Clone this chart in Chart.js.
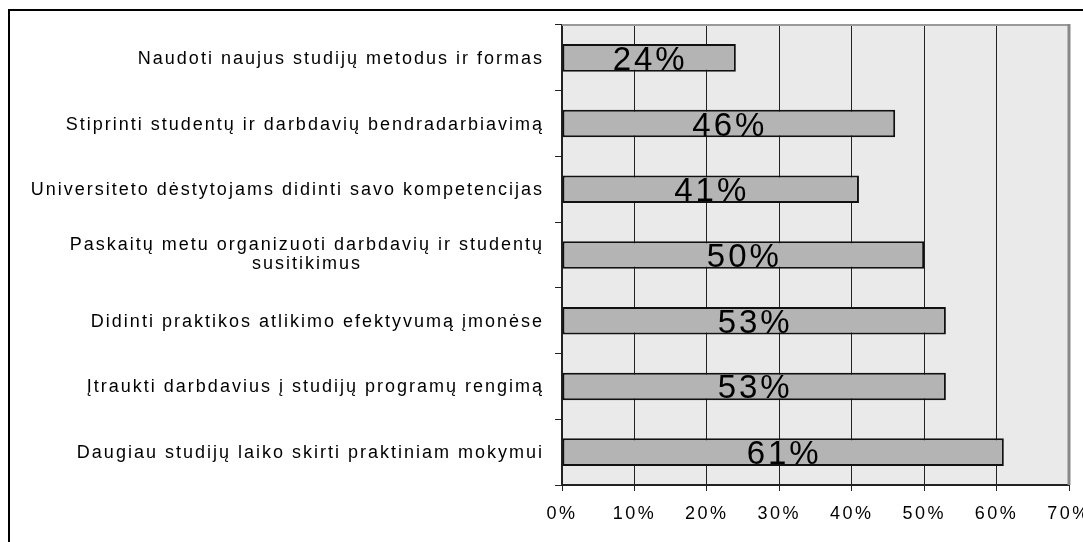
<!DOCTYPE html>
<html lang="lt">
<head>
  <meta charset="UTF-8" />
  <title>Siūlymai</title>
  <script src="https://cdn.jsdelivr.net/npm/chart.js"></script>
  <style>
    body { margin: 0; background: #fff; }
    #wrap { width: 1083px; height: 542px; position: relative; }
  </style>
</head>
<body>
  <div id="wrap"><canvas id="chart"></canvas></div>

  <script>
    const categories = [
      ["Naudoti naujus studijų metodus ir formas"],
      ["Stiprinti studentų ir darbdavių bendradarbiavimą"],
      ["Universiteto dėstytojams didinti savo kompetencijas"],
      ["Paskaitų metu organizuoti darbdavių ir studentų", "susitikimus"],
      ["Didinti praktikos atlikimo efektyvumą įmonėse"],
      ["Įtraukti darbdavius į studijų programų rengimą"],
      ["Daugiau studijų laiko skirti praktiniam mokymui"]
    ];
    const values = [24, 46, 41, 50, 53, 53, 61];
    const xTicks = [0, 10, 20, 30, 40, 50, 60, 70];

    const FONT = "'Liberation Sans', Arial, sans-serif";

    // white page, grey plot area and the outer frame
    const backdrop = {
      id: "backdrop",
      beforeDraw(chart) {
        const { ctx, chartArea: a } = chart;
        ctx.save();
        ctx.fillStyle = "#fff";
        ctx.fillRect(0, 0, chart.width, chart.height);
        ctx.fillStyle = "#eaeaea";
        ctx.fillRect(a.left, a.top, a.right - a.left, a.bottom - a.top);
        ctx.strokeStyle = "#000";
        ctx.lineWidth = 2;
        ctx.beginPath();
        ctx.moveTo(9, chart.height + 2);
        ctx.lineTo(9, 10);
        ctx.lineTo(chart.width + 2, 10);
        ctx.stroke();
        ctx.restore();
        ctx.letterSpacing = "2.5px";
      },
      afterDraw(chart) {
        const { ctx, chartArea: a } = chart;
        ctx.save();
        ctx.strokeStyle = "#999";
        ctx.lineWidth = 2;
        ctx.beginPath();
        ctx.moveTo(a.left, a.top);
        ctx.lineTo(a.right, a.top);
        ctx.stroke();
        ctx.strokeStyle = "#888";
        ctx.lineWidth = 3;
        ctx.beginPath();
        ctx.moveTo(a.right, a.top - 1);
        ctx.lineTo(a.right, a.bottom);
        ctx.stroke();
        ctx.restore();
      }
    };

    // category labels: block right aligned, lines centred inside it
    const catLabels = {
      id: "catLabels",
      afterDraw(chart) {
        const { ctx } = chart;
        const y = chart.scales.y;
        ctx.save();
        ctx.font = "18px " + FONT;
        ctx.letterSpacing = "2px";
        ctx.fillStyle = "#000";
        ctx.textAlign = "center";
        ctx.textBaseline = "alphabetic";
        const right = 544, lh = 19;
        categories.forEach((lines, i) => {
          const w = Math.max(...lines.map(l => ctx.measureText(l).width));
          const cx = right - w / 2;
          const cy = y.getPixelForValue(i);
          lines.forEach((l, k) => {
            const ly = cy + (k - (lines.length - 1) / 2) * lh;
            ctx.fillText(l, cx, ly + (lines.length > 1 ? 4 : 6));
          });
        });
        ctx.restore();
      }
    };

    // big value labels centred in each bar
    const barLabels = {
      id: "barLabels",
      afterDatasetsDraw(chart) {
        const { ctx } = chart;
        const meta = chart.getDatasetMeta(0);
        ctx.save();
        ctx.font = "33px " + FONT;
        ctx.letterSpacing = "3px";
        ctx.fillStyle = "#000";
        ctx.textAlign = "center";
        ctx.textBaseline = "alphabetic";
        meta.data.forEach((bar, i) => {
          const cx = (bar.x + bar.base) / 2 + 1;
          ctx.fillText(values[i] + "%", cx, bar.y + 12);
        });
        ctx.restore();
      }
    };

    new Chart(document.getElementById("chart"), {
      type: "bar",
      data: {
        labels: categories.map(c => c.join(" ")),
        datasets: [{
          data: values,
          backgroundColor: "#b4b4b4",
          borderColor: "#111",
          borderWidth: 2,
          borderSkipped: false,
          categoryPercentage: 1,
          barPercentage: 0.42
        }]
      },
      options: {
        indexAxis: "y",
        responsive: true,
        maintainAspectRatio: false,
        animation: false,
        layout: { padding: { top: 25, right: 14, left: 0, bottom: 0 } },
        plugins: { legend: { display: false }, tooltip: { enabled: false } },
        scales: {
          x: {
            min: 0,
            max: 70,
            afterBuildTicks: s => { s.ticks = xTicks.map(v => ({ value: v })); },
            afterFit: s => { s.height = 57; s.paddingLeft = 0; s.paddingRight = 0; },
            ticks: {
              callback: v => v + "%",
              color: "#000",
              font: { family: FONT, size: 18 },
              padding: 12,
              maxRotation: 0
            },
            grid: { color: "#222", lineWidth: 1, tickLength: 6 },
            border: { color: "#222", width: 2 }
          },
          y: {
            afterFit: s => { s.width = 562; },
            ticks: { display: false },
            grid: { offset: true, drawOnChartArea: false, color: "#222", tickLength: 7 },
            border: { color: "#222", width: 2 }
          }
        }
      },
      plugins: [backdrop, catLabels, barLabels]
    });
  </script>
</body>
</html>
